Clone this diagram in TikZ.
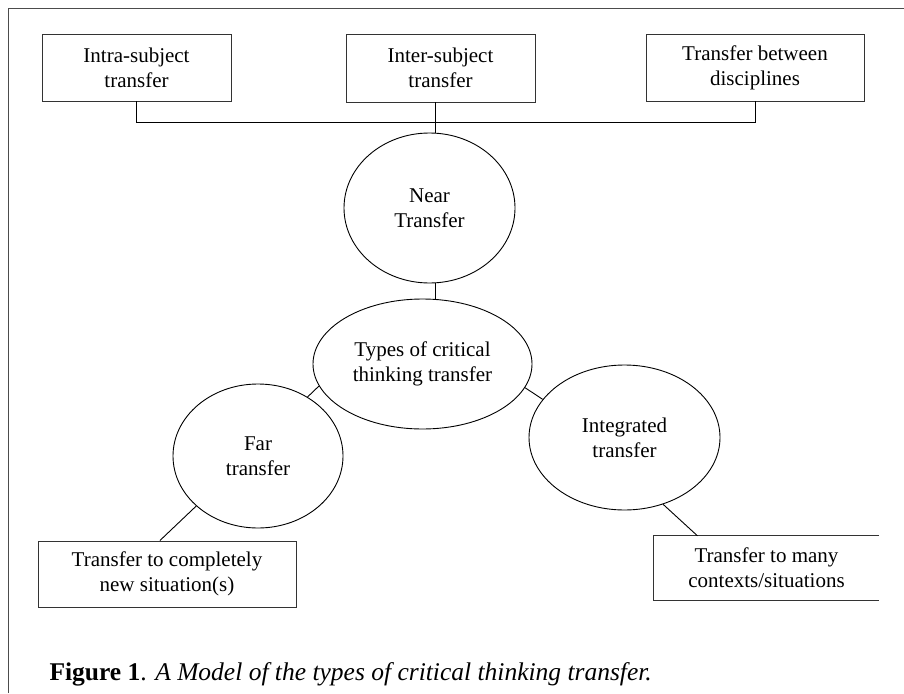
\documentclass[tikz,border=0pt]{standalone}
\usepackage{fontspec}
\setmainfont{Liberation Serif}
\usetikzlibrary{shapes.geometric}
\begin{document}
\begin{tikzpicture}[x=1pt,y=-1pt,
  every node/.style={font=\fontsize{21}{25}\selectfont, align=center, text=black},
  boxnode/.style={draw=black!80, line width=0.9pt, rectangle, inner sep=0pt},
  ovalnode/.style={draw=black, line width=0.9pt, ellipse, inner sep=0pt},
  link/.style={draw=black, line width=0.9pt},
  framestyle/.style={draw=black!70, line width=1pt}]
\useasboundingbox (0,0) rectangle (904,693);
% outer frame (top and left only)
\draw[framestyle] (8,693) -- (8,9) -- (904,9);
% top boxes
\node[boxnode, minimum width=189pt, minimum height=67pt] (b1) at (136.5,67.5) {Intra-subject\\transfer};
\node[boxnode, minimum width=189pt, minimum height=68pt] (b2) at (440.5,68) {Inter-subject\\transfer};
\node[boxnode, minimum width=218pt, minimum height=67pt] (b3) at (755,67.5) {Transfer between\\disciplines};
% ellipses
\node[ovalnode, minimum width=171pt, minimum height=150pt] (near) at (429.5,208) {Near\\Transfer};
\node[ovalnode, minimum width=219pt, minimum height=130pt] (types) at (422.5,364) {Types of critical\\thinking transfer};
\node[ovalnode, minimum width=170pt, minimum height=144pt] (far) at (258,456) {Far\\transfer};
\node[ovalnode, minimum width=191pt, minimum height=145pt] (integ) at (624.5,437.5) {Integrated\\transfer};
% bottom boxes
\node[boxnode, minimum width=258pt, minimum height=66pt] (b4) at (167,574) {Transfer to completely\\new situation(s)};
\node[inner sep=0pt, minimum width=225pt, minimum height=64pt] (b5) at (766.5,568) {Transfer to many\\contexts/situations};
\draw[draw=black!80, line width=0.9pt] (b5.north east) -- (b5.north west) -- (b5.south west) -- (b5.south east);
% connectors
\coordinate (bus) at (0,122);
\coordinate (vx) at (435,0);
\draw[link] (b1.south) -- (b1.south |- bus) -- (b3.south |- bus) -- (b3.south);
\draw[link] (b2.south -| vx) -- (near.north -| vx);
\draw[link] (near.south -| vx) -- (types.north -| vx);
\draw[link] (far.50) -- (types.192);
\draw[link] (types.347) -- (integ.155);
\draw[link] (far.219) -- (b4.102);
\draw[link] (integ.300) -- (b5.155);
% caption
\node[anchor=west, font=\fontsize{25.5}{30}\selectfont] (cap) at (46,674) {\textbf{Figure 1}. \textit{A Model of the types of critical thinking transfer.}};
\end{tikzpicture}
\end{document}
